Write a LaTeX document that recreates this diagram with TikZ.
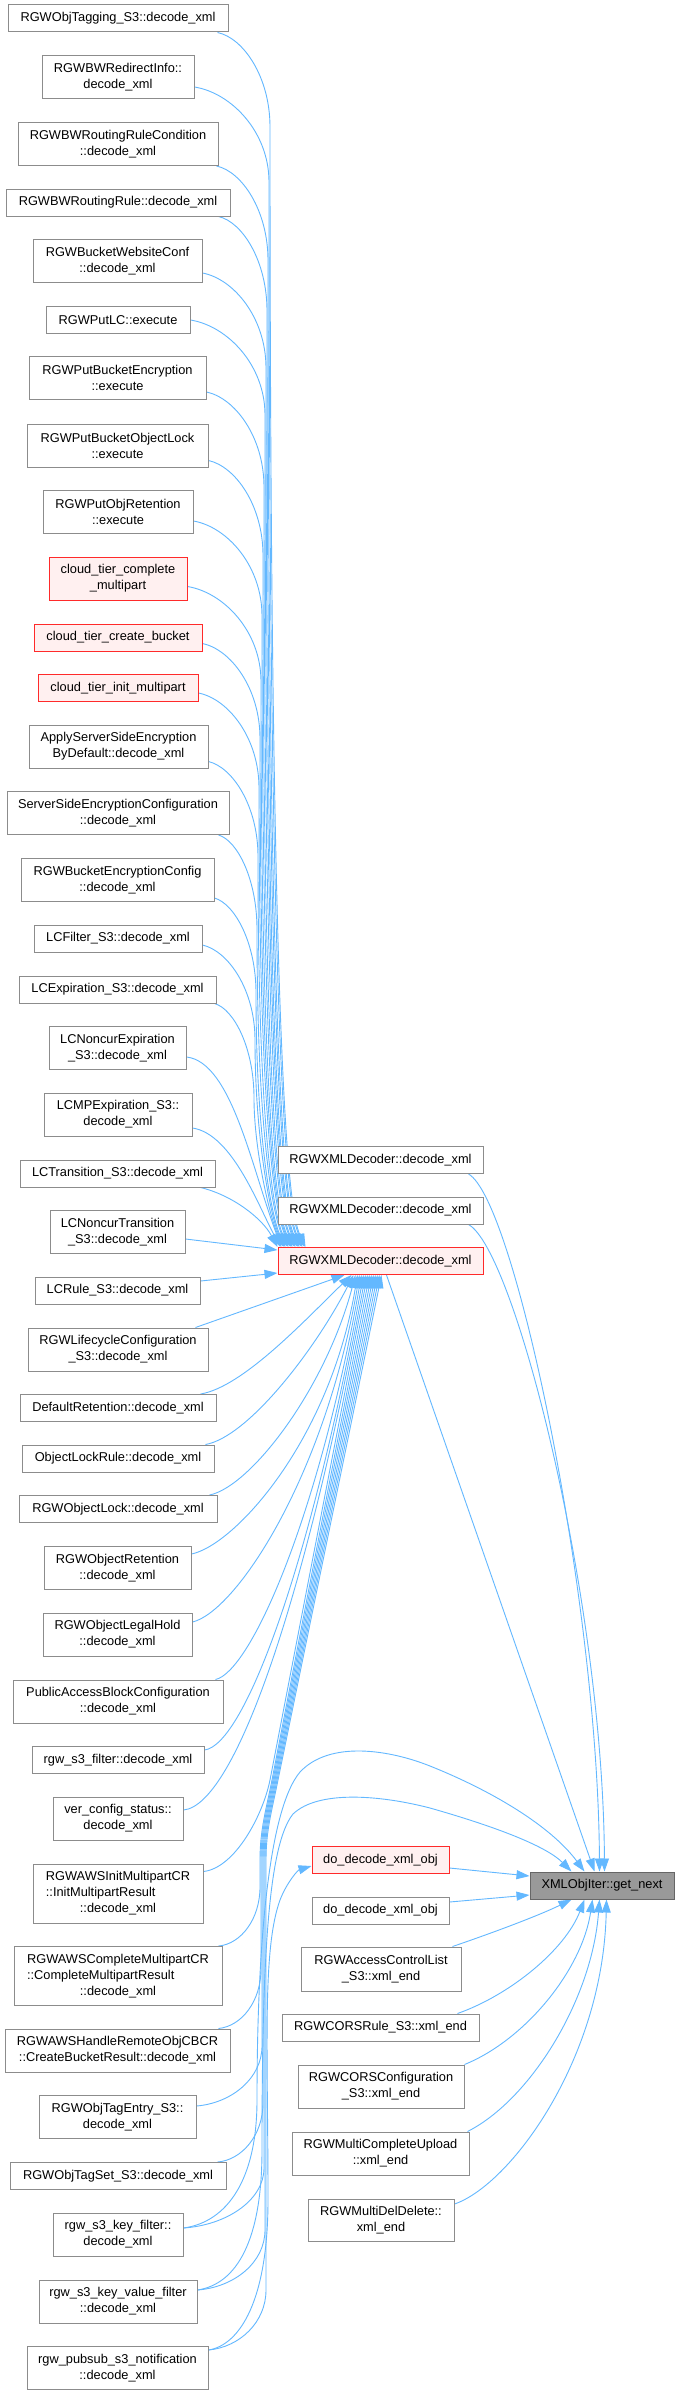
\documentclass[tikz,border=0pt]{standalone}
\usepackage{fontspec}
\setmainfont{Liberation Sans}
\usetikzlibrary{arrows.meta,backgrounds}
\definecolor{edgeblue}{HTML}{63B8FF}
\definecolor{boxgray}{HTML}{8C8C8C}
\definecolor{boxred}{HTML}{FF2A2A}
\definecolor{redfill}{HTML}{FFF0F0}
\definecolor{rootfill}{HTML}{999999}
\definecolor{rootline}{HTML}{666666}
\newcommand{\dxfont}{\fontsize{12.8}{16}\selectfont}
\tikzset{
  nbox/.style={draw=boxgray, fill=white, line width=1pt, inner sep=0pt, align=center, font=\dxfont, text=black},
  redbox/.style={nbox, draw=boxred, fill=redfill},
  rootbox/.style={nbox, draw=rootline, fill=rootfill},
  sz/.style 2 args={minimum width=#1pt, minimum height=#2pt},
  cedge/.style={draw=edgeblue, line width=0.9pt, -{Triangle[length=13pt,width=9pt]}},
}
\begin{document}
\begin{tikzpicture}[x=1pt,y=-1pt]
\useasboundingbox (0,0) rectangle (679,2395);
% left column
\node[nbox,sz={220}{27}] (n1) at (118,18.5) {RGWObjTagging\_S3::decode\_xml};
\node[nbox,sz={152}{43}] (n2) at (118,77.5) {RGWBWRedirectInfo::\\decode\_xml};
\node[nbox,sz={200}{43}] (n3) at (118,144) {RGWBWRoutingRuleCondition\\::decode\_xml};
\node[nbox,sz={224}{27}] (n4) at (118,202.5) {RGWBWRoutingRule::decode\_xml};
\node[nbox,sz={169}{43}] (n5) at (117.5,261) {RGWBucketWebsiteConf\\::decode\_xml};
\node[nbox,sz={144}{27}] (n6) at (118,320) {RGWPutLC::execute};
\node[nbox,sz={177}{43}] (n7) at (117.5,378) {RGWPutBucketEncryption\\::execute};
\node[nbox,sz={181}{43}] (n8) at (117.5,445.5) {RGWPutBucketObjectLock\\::execute};
\node[nbox,sz={150}{43}] (n9) at (118,512) {RGWPutObjRetention\\::execute};
\node[redbox,sz={138}{43}] (n10) at (118,578.5) {cloud\_tier\_complete\\\_multipart};
\node[redbox,sz={168}{27}] (n11) at (118,637.5) {cloud\_tier\_create\_bucket};
\node[redbox,sz={160}{27}] (n12) at (118,688) {cloud\_tier\_init\_multipart};
\node[nbox,sz={179}{43}] (n13) at (118.5,746.5) {ApplyServerSideEncryption\\ByDefault::decode\_xml};
\node[nbox,sz={222}{43}] (n14) at (118,813) {ServerSideEncryptionConfiguration\\::decode\_xml};
\node[nbox,sz={193}{43}] (n15) at (117.5,880) {RGWBucketEncryptionConfig\\::decode\_xml};
\node[nbox,sz={168}{27}] (n16) at (118,938.5) {LCFilter\_S3::decode\_xml};
\node[nbox,sz={197}{27}] (n17) at (117.5,989.5) {LCExpiration\_S3::decode\_xml};
\node[nbox,sz={137}{43}] (n18) at (117.5,1048) {LCNoncurExpiration\\\_S3::decode\_xml};
\node[nbox,sz={148}{43}] (n19) at (118,1114.5) {LCMPExpiration\_S3::\\decode\_xml};
\node[nbox,sz={195}{27}] (n20) at (117.5,1173.5) {LCTransition\_S3::decode\_xml};
\node[nbox,sz={135}{43}] (n21) at (117.5,1232) {LCNoncurTransition\\\_S3::decode\_xml};
\node[nbox,sz={165}{27}] (n22) at (117.5,1290.5) {LCRule\_S3::decode\_xml};
\node[nbox,sz={180}{43}] (n23) at (118,1349.5) {RGWLifecycleConfiguration\\\_S3::decode\_xml};
\node[nbox,sz={196}{27}] (n24) at (118,1408) {DefaultRetention::decode\_xml};
\node[nbox,sz={192}{27}] (n25) at (118,1458.5) {ObjectLockRule::decode\_xml};
\node[nbox,sz={198}{27}] (n26) at (118,1509) {RGWObjectLock::decode\_xml};
\node[nbox,sz={147}{43}] (n27) at (117.5,1568) {RGWObjectRetention\\::decode\_xml};
\node[nbox,sz={149}{43}] (n28) at (117.5,1634.5) {RGWObjectLegalHold\\::decode\_xml};
\node[nbox,sz={210}{43}] (n29) at (118,1701.5) {PublicAccessBlockConfiguration\\::decode\_xml};
\node[nbox,sz={172}{27}] (n30) at (118,1760) {rgw\_s3\_filter::decode\_xml};
\node[nbox,sz={130}{43}] (n31) at (118,1818.5) {ver\_config\_status::\\decode\_xml};
\node[nbox,sz={170}{59}] (n32) at (118,1893.5) {RGWAWSInitMultipartCR\\\rlap{::InitMultipartResult}\phantom{RGWAWSInitMultipartCR}\\::decode\_xml};
\node[nbox,sz={208}{59}] (n33) at (118,1976) {RGWAWSCompleteMultipartCR\\\rlap{::CompleteMultipartResult}\phantom{RGWAWSCompleteMultipartCR}\\::decode\_xml};
\node[nbox,sz={225}{43}] (n34) at (117.5,2050.5) {RGWAWSHandleRemoteObjCBCR\\::CreateBucketResult::decode\_xml};
\node[nbox,sz={157}{43}] (n35) at (117.5,2117) {RGWObjTagEntry\_S3::\\decode\_xml};
\node[nbox,sz={216}{27}] (n36) at (118,2176) {RGWObjTagSet\_S3::decode\_xml};
\node[nbox,sz={130}{43}] (n37) at (118,2234.5) {rgw\_s3\_key\_filter::\\decode\_xml};
\node[nbox,sz={158}{43}] (n38) at (118,2301.5) {rgw\_s3\_key\_value\_filter\\::decode\_xml};
\node[nbox,sz={181}{43}] (n39) at (117.5,2368) {rgw\_pubsub\_s3\_notification\\::decode\_xml};
% middle column
\node[nbox,sz={205}{27}] (dx1) at (380.5,1160) {RGWXMLDecoder::decode\_xml};
\node[nbox,sz={205}{27}] (dx2) at (380.5,1210.5) {RGWXMLDecoder::decode\_xml};
\node[redbox,sz={205}{27}] (decX) at (380.5,1261) {RGWXMLDecoder::decode\_xml};
\node[redbox,sz={137}{27}] (dd1) at (380.5,1860) {do\_decode\_xml\_obj};
\node[nbox,sz={137}{27}] (dd2) at (380.5,1910.5) {do\_decode\_xml\_obj};
\node[nbox,sz={160}{44}] (acl) at (381,1969) {RGWAccessControlList\\\_S3::xml\_end};
\node[nbox,sz={197}{27}] (corsrule) at (380.5,2027.5) {RGWCORSRule\_S3::xml\_end};
\node[nbox,sz={166}{43}] (corsconf) at (381,2086.5) {RGWCORSConfiguration\\\_S3::xml\_end};
\node[nbox,sz={177}{43}] (mcu) at (380.5,2153.5) {RGWMultiCompleteUpload\\::xml\_end};
\node[nbox,sz={146}{42}] (mdd) at (381,2220) {RGWMultiDelDelete::\\xml\_end};
% root
\node[rootbox,sz={144}{27}] (getnext) at (602,1885.5) {XMLObjIter::get\_next};

\begin{scope}[on background layer]
\fill[white] (0,0) rectangle (679,2395);
% upper callers -> decX
\draw[cedge] ([xshift=-11pt]n1.south east) .. controls (243.5,38) and (270,77) .. (270,127) .. controls (270,1140) and (292,1218) .. ([xshift=28pt]decX.north west);
\draw[cedge] ([yshift=-9.5pt]n2.east) .. controls (231.5,93) and (269,132) .. (269,182) .. controls (269,1140) and (291,1218) .. ([xshift=27pt]decX.north west);
\draw[cedge] ([xshift=-2pt]n3.south east) .. controls (242,171.5) and (268,210.5) .. (268,260.5) .. controls (268,1140) and (289,1218) .. ([xshift=25pt]decX.north west);
\draw[cedge] ([xshift=-12pt]n4.south east) .. controls (242.5,222) and (267,261) .. (267,311) .. controls (267,1140) and (288,1218) .. ([xshift=24pt]decX.north west);
\draw[cedge] ([yshift=-12pt]n5.east) .. controls (234,279) and (266,318) .. (266,368) .. controls (266,1140) and (286,1218) .. ([xshift=22pt]decX.north west);
\draw[cedge] (n6.east) .. controls (227.5,326) and (265,365) .. (265,415) .. controls (265,1140) and (285,1218) .. ([xshift=21pt]decX.north west);
\draw[cedge] ([yshift=-14pt]n7.east) .. controls (235,398) and (264,437) .. (264,487) .. controls (264,1140) and (284,1218) .. ([xshift=20pt]decX.north west);
\draw[cedge] ([yshift=-15pt]n8.east) .. controls (235.5,466.5) and (263,505.5) .. (263,555.5) .. controls (263,1140) and (282,1218) .. ([xshift=18pt]decX.north west);
\draw[cedge] ([yshift=-9pt]n9.east) .. controls (227.5,527) and (262,566) .. (262,616) .. controls (262,1140) and (281,1218) .. ([xshift=17pt]decX.north west);
\draw[cedge] ([yshift=-8pt]n10.east) .. controls (224,592.5) and (261,631.5) .. (261,681.5) .. controls (261,1140) and (279,1218) .. ([xshift=15pt]decX.north west);
\draw[cedge] ([yshift=-6pt]n11.east) .. controls (231,649.5) and (260,688.5) .. (260,738.5) .. controls (260,1140) and (278,1218) .. ([xshift=14pt]decX.north west);
\draw[cedge] ([yshift=-5pt]n12.east) .. controls (228.5,699) and (259,738) .. (259,788) .. controls (259,1140) and (277,1218) .. ([xshift=13pt]decX.north west);
\draw[cedge] ([yshift=-15pt]n13.east) .. controls (233,767.5) and (258,806.5) .. (258,856.5) .. controls (258,1140) and (275,1218) .. ([xshift=11pt]decX.north west);
\draw[cedge] ([xshift=-11pt]n14.south east) .. controls (237.5,840.5) and (257,879.5) .. (257,929.5) .. controls (257,1140) and (274,1218) .. ([xshift=10pt]decX.north west);
\draw[cedge] ([yshift=-18pt]n15.east) .. controls (235,904) and (256,943) .. (256,993) .. controls (256,1140) and (272,1218) .. ([xshift=8pt]decX.north west);
\draw[cedge] ([yshift=-6.5pt]n16.east) .. controls (228.5,951) and (255,990) .. (255,1040) .. controls (255,1140) and (271,1218) .. ([xshift=7pt]decX.north west);
\draw[cedge] ([xshift=-2pt]n17.south east) .. controls (234,1009) and (254,1048) .. (254,1098) .. controls (254,1150) and (270,1218) .. ([xshift=6pt]decX.north west);
\draw[cedge] ([yshift=-9pt]n18.east) .. controls (232,1062) and (252,1170) .. ([xshift=4pt]decX.north west);
\draw[cedge] ([yshift=-13.5pt]n19.east) .. controls (232,1134) and (258,1205) .. ([xshift=3pt]decX.north west);
\draw[cedge] ([xshift=-15pt]n20.south east) .. controls (232,1195) and (262,1218) .. (decX.north west);
\draw[cedge] ([yshift=-7pt]n21.east) -- ([yshift=-3pt]decX.north west);
\draw[cedge] ([yshift=9.5pt]n22.east) -- ([yshift=2pt]decX.south west);
\draw[cedge] ([xshift=-13pt]n23.north east) -- ([xshift=67pt]decX.south west);
% lower callers -> decX
\draw[cedge] ([xshift=-16pt]n24.north east) .. controls (243,1387) and (305,1320) .. ([xshift=74pt]decX.south west);
\draw[cedge] ([xshift=-9pt]n25.north east) .. controls (248,1437) and (315,1350) .. ([xshift=76pt]decX.south west);
\draw[cedge] ([xshift=-8pt]n26.north east) .. controls (250,1487) and (325,1390) .. ([xshift=78pt]decX.south west);
\draw[cedge] ([yshift=14pt]n27.east) .. controls (235,1545) and (330,1440) .. ([xshift=80pt]decX.south west);
\draw[cedge] ([yshift=12.5pt]n28.east) .. controls (235,1612) and (324,1480) .. ([xshift=82pt]decX.south west);
\draw[cedge] ([xshift=-8pt]n29.north east) .. controls (250,1672) and (318,1520) .. ([xshift=84pt]decX.south west);
\draw[cedge] ([yshift=10pt]n30.east) .. controls (245,1745) and (312,1560) .. ([xshift=86pt]decX.south west);
\draw[cedge] ([yshift=8.5pt]n31.east) .. controls (235,1805) and (305.5,1600) .. ([xshift=88pt]decX.south west);
\draw[cedge] ([yshift=-8pt]n32.north east) .. controls (235,1868) and (263,1815) .. (270,1780) -- ([xshift=90pt]decX.south west);
\draw[cedge] ([xshift=-4pt]n33.north east) .. controls (241,1944) and (260,1919) .. (260,1887) -- (260,1860) .. controls (260,1830) and (266,1810) .. (272,1780) -- ([xshift=92pt]decX.south west);
\draw[cedge] ([xshift=-12pt]n34.north east) .. controls (242,2026) and (261,2001) .. (261,1969) -- (261,1860) .. controls (261,1830) and (267,1810) .. (273,1780) -- ([xshift=94pt]decX.south west);
\draw[cedge] ([yshift=11pt]n35.east) .. controls (232,2103) and (262,2078) .. (262,2046) -- (262,1860) .. controls (262,1830) and (268,1810) .. (274,1780) -- ([xshift=96pt]decX.south west);
\draw[cedge] ([xshift=-9pt]n36.north east) .. controls (242,2160) and (263,2135) .. (263,2103) -- (263,1860) .. controls (263,1830) and (269,1810) .. (275,1780) -- ([xshift=98pt]decX.south west);
\draw[cedge] ([yshift=6.5pt]n37.east) .. controls (227,2225) and (264,2200) .. (264,2168) -- (264,1860) .. controls (264,1830) and (270,1810) .. (276,1780) -- ([xshift=100pt]decX.south west);
\draw[cedge] ([yshift=11.5pt]n38.east) .. controls (235,2287) and (265,2262) .. (265,2230) -- (265,1860) .. controls (265,1830) and (271,1810) .. (277,1780) -- ([xshift=102pt]decX.south west);
\draw[cedge] ([yshift=18pt]n39.east) .. controls (240,2347) and (266,2322) .. (266,2290) -- (266,1860) .. controls (266,1830) and (272,1810) .. (278,1780) -- ([xshift=104pt]decX.south west);
% pubsub -> do_decode_xml_obj (red)
\draw[cedge] ([yshift=18pt]n39.east) .. controls (240,2345) and (268,2300) .. (268,2200) .. controls (268,2050) and (262,1950) .. (280,1900) .. controls (287,1882) and (298,1870) .. ([yshift=-6pt]dd1.west);
% key filters -> get_next
\draw[cedge] ([yshift=6.5pt]n37.east) .. controls (227,2222) and (257,2180) .. (257,2100) .. controls (257,1950) and (268,1810) .. (300,1772) .. controls (330,1740) and (390,1750) .. (430,1766) .. controls (490,1790) and (550,1825) .. ([xshift=55pt]getnext.north west);
\draw[cedge] ([yshift=11.5pt]n38.east) .. controls (237,2284) and (262,2240) .. (262,2150) .. controls (262,1960) and (268,1845) .. (293,1814) .. controls (318,1790) and (380,1795) .. (430,1808) .. controls (490,1825) and (545,1845) .. ([xshift=42pt]getnext.north west);
% decoders -> get_next
\draw[cedge] ([xshift=109pt]decX.south west) -- ([xshift=65pt]getnext.north west);
\draw[cedge] ([xshift=-15pt]dx1.south east) .. controls (515,1200) and (598,1600) .. ([xshift=70pt]getnext.north west);
\draw[cedge] ([xshift=-15pt]dx2.south east) .. controls (515,1250) and (603,1600) .. ([xshift=75pt]getnext.north west);
\draw[cedge] ([yshift=-8pt]dd1.east) -- ([yshift=9.5pt]getnext.west);
\draw[cedge] ([yshift=8.5pt]dd2.east) -- ([yshift=-9.5pt]getnext.west);
% bottom callers -> get_next
\draw[cedge] ([xshift=-9pt]acl.north east) .. controls (495,1932) and (540,1915) .. ([xshift=42pt]getnext.south west);
\draw[cedge] ([xshift=-22pt]corsrule.north east) .. controls (510,1995) and (565,1950) .. ([xshift=55pt]getnext.south west);
\draw[cedge] (corsconf.north east) .. controls (525,2040) and (582,1970) .. ([xshift=63pt]getnext.south west);
\draw[cedge] ([xshift=-2pt]mcu.north east) .. controls (530,2100) and (592,2000) .. ([xshift=70pt]getnext.south west);
\draw[cedge] ([yshift=16pt]mdd.east) .. controls (510,2185) and (603,2060) .. ([xshift=77pt]getnext.south west);
\end{scope}
\end{tikzpicture}
\end{document}
